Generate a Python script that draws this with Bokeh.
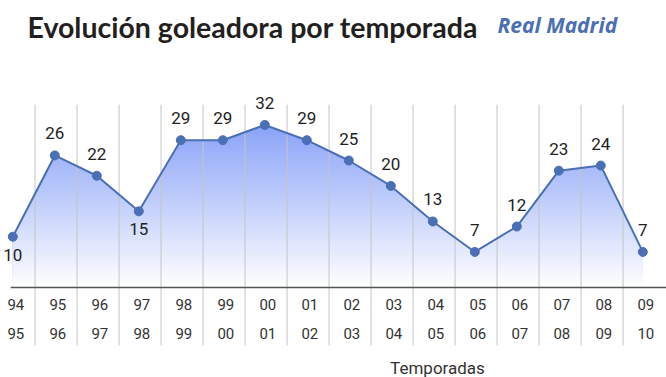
import numpy as np
from bokeh.plotting import figure
from bokeh.models import Range1d, Label, ColumnDataSource
from bokeh.core.properties import value
from bokeh.embed import file_html
from bokeh.resources import INLINE

# ---- data ----
season_start = ["94", "95", "96", "97", "98", "99", "00", "01", "02", "03", "04", "05", "06", "07", "08", "09"]
season_end = ["95", "96", "97", "98", "99", "00", "01", "02", "03", "04", "05", "06", "07", "08", "09", "10"]
goals = [10, 26, 22, 15, 29, 29, 32, 29, 25, 20, 13, 7, 12, 23, 24, 7]
labels_below = [0, 3]  # seasons whose value label sits under the point

title_text = "Evolución goleadora por temporada"
subtitle_text = "Real Madrid"
x_title = "Temporadas"

# ---- styles ----
LINE_COLOR = "#4a6fb5"
TOP_RGB = np.array([138, 163, 248])
FONT = "Roboto"

n = len(goals)
xs = list(range(n))

p = figure(width=666, height=377,
           x_range=Range1d(-0.293, 15.564), y_range=Range1d(-17.72, 56.5),
           output_backend="svg", toolbar_location=None,
           x_axis_location=None, y_axis_location=None, min_border=0)
p.grid.visible = False
p.outline_line_color = None
p.background_fill_color = "white"
p.border_fill_color = "white"


def clipped_area(xv, yv, cap):
    """Area outline under the polyline, cut at height `cap` (exact crossings)."""
    ox, oy = [], []
    for i in range(len(xv) - 1):
        x0, y0, x1, y1 = xv[i], yv[i], xv[i + 1], yv[i + 1]
        ox.append(x0)
        oy.append(min(y0, cap))
        if (y0 - cap) * (y1 - cap) < 0:
            xc = x0 + (cap - y0) / (y1 - y0) * (x1 - x0)
            ox.append(xc)
            oy.append(cap)
    ox.append(xv[-1])
    oy.append(min(yv[-1], cap))
    return ox, oy


# gradient fill: bands drawn from top to bottom, each lower band covering the one above
top_v = max(goals)
n_bands = 48
edges = np.linspace(0, top_v, n_bands + 1)
for k in range(n_bands, 0, -1):
    cap = float(edges[k])
    mid = 0.5 * (edges[k] + edges[k - 1])
    tt = mid / top_v
    rgb = (255 * (1 - tt) + TOP_RGB * tt).astype(int)
    col = "#%02x%02x%02x" % tuple(int(c) for c in rgb)
    bx, by = clipped_area(xs, goals, cap)
    p.varea(x=bx, y1=0, y2=by, fill_color=col)

# vertical separators between seasons
sep_x = [i + 0.53 for i in xs[:-1]]
p.segment(x0=sep_x, y0=36, x1=sep_x, y1=-11.4, line_color="#c4c4c4", line_width=1)

# baseline axis line
p.segment(x0=[-0.05], y0=[0], x1=[15.6], y1=[0], line_color="#555555", line_width=1.3)

# line + markers
p.line(xs, goals, line_color=LINE_COLOR, line_width=2)
p.scatter(xs, goals, size=9, fill_color=LINE_COLOR, line_color=LINE_COLOR)

# value labels
above_idx = [i for i in range(n) if i not in labels_below]
src_above = ColumnDataSource(dict(x=[xs[i] for i in above_idx], y=[goals[i] for i in above_idx],
                                  t=[str(goals[i]) for i in above_idx]))
src_below = ColumnDataSource(dict(x=[xs[i] for i in labels_below], y=[goals[i] for i in labels_below],
                                  t=[str(goals[i]) for i in labels_below]))
p.text(x="x", y="y", text="t", source=src_above, y_offset=-22, text_align="center",
       text_baseline="middle", text_font=value(FONT), text_font_size="17px", text_color="#222222")
p.text(x="x", y="y", text="t", source=src_below, y_offset=18, text_align="center",
       text_baseline="middle", text_font=value(FONT), text_font_size="17px", text_color="#222222")

# season tick labels (two rows)
zeros = [0] * n
p.text(x=xs, y=zeros, text=season_start, x_offset=3, y_offset=17, text_align="center",
       text_baseline="middle", text_font=value(FONT), text_font_size="15px", text_color="#333333")
p.text(x=xs, y=zeros, text=season_end, x_offset=3, y_offset=46, text_align="center",
       text_baseline="middle", text_font=value(FONT), text_font_size="15px", text_color="#333333")

# axis title
p.add_layout(Label(x=437, y=10, x_units="screen", y_units="screen", text=x_title,
                   text_align="center", text_baseline="middle", text_font=FONT,
                   text_font_size="17px", text_color="#333333"))

# titles
p.add_layout(Label(x=27, y=351, x_units="screen", y_units="screen", text=title_text,
                   text_baseline="alphabetic", text_font="Lato", text_font_size="28.5px",
                   text_font_style="bold", text_color="#231f20"))
p.add_layout(Label(x=497, y=353, x_units="screen", y_units="screen", text=subtitle_text,
                   text_baseline="alphabetic", text_font="Open Sans", text_font_size="21px",
                   text_font_style="bold italic", text_color=LINE_COLOR))

open("out.html", "w").write(file_html(p, INLINE))
